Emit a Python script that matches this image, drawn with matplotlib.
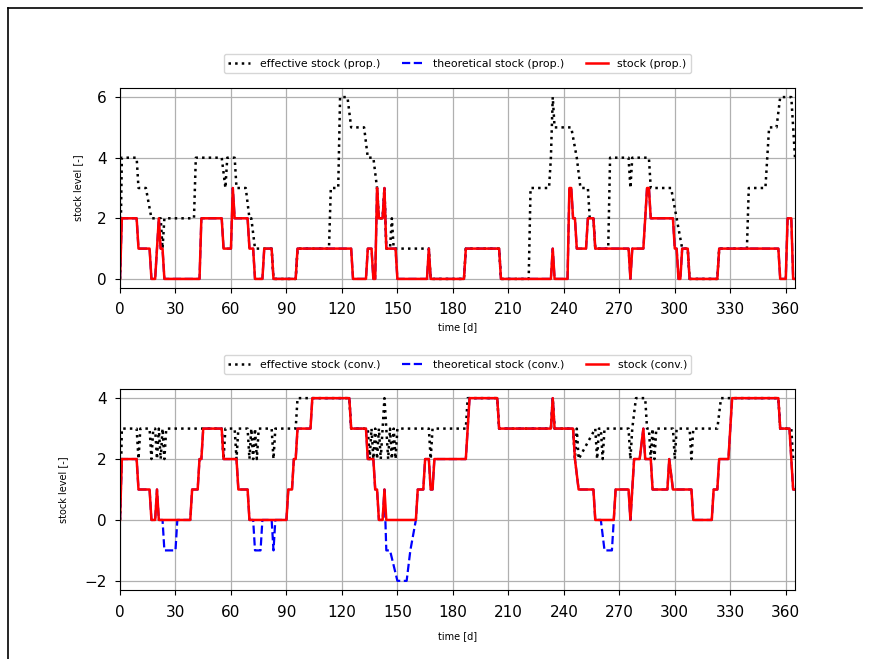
import matplotlib
matplotlib.use("Agg")
import matplotlib.pyplot as plt
from matplotlib.lines import Line2D

# ---------------- data (vertices: day, level) ----------------
t_eff_prop = [0, 1, 9, 10, 14, 17, 22, 23, 24, 40, 41, 55, 57, 58, 62, 63, 68, 70, 71, 73, 82, 83, 95, 96,
              113, 114, 118, 119, 123, 125, 132, 134, 137, 139, 140, 142, 143, 144, 146, 147, 148, 167, 168,
              186, 187, 205, 206, 221, 222, 232, 233, 234, 235, 244, 247, 249, 253, 254, 256, 257, 264, 265,
              275, 276, 277, 286, 287, 298, 304, 307, 308, 323, 324, 339, 340, 349, 351, 355, 357, 363, 364, 365]
v_eff_prop = [0, 4, 4, 3, 3, 2, 2, 1, 2, 2, 4, 4, 3, 4, 4, 3, 3, 2, 2, 1, 1, 0, 0, 1,
              1, 3, 3, 6, 6, 5, 5, 4, 4, 3, 2, 2, 3, 1, 1, 2, 1, 1, 0,
              0, 1, 1, 0, 0, 3, 3, 4, 6, 5, 5, 4, 3, 3, 2, 2, 1, 1, 4,
              4, 3, 4, 4, 3, 3, 1, 1, 0, 0, 1, 1, 3, 3, 5, 5, 6, 6, 5, 4]

t_stock_prop = [0, 1, 9, 10, 16, 17, 19, 21, 22, 23, 24, 43, 44, 55, 56, 60, 61, 62, 69, 70, 72, 73, 77, 78,
                82, 83, 95, 96, 125, 126, 133, 134, 136, 137, 138, 139, 140, 142, 143, 144, 149, 150, 166,
                167, 168, 186, 187, 205, 206, 233, 234, 235, 242, 243, 244, 245, 246, 247, 252, 253, 256, 257,
                275, 276, 277, 283, 285, 286, 287, 299, 300, 301, 302, 303, 304, 307, 308, 323, 324, 356, 357,
                360, 361, 363, 364, 365]
v_stock_prop = [0, 2, 2, 1, 1, 0, 0, 2, 1, 1, 0, 0, 2, 2, 1, 1, 3, 2, 2, 1, 1, 0, 0, 1,
                1, 0, 0, 1, 1, 0, 0, 1, 1, 0, 0, 3, 2, 2, 3, 1, 1, 0, 0,
                1, 0, 0, 1, 1, 0, 0, 1, 0, 0, 3, 3, 2, 2, 1, 1, 2, 2, 1,
                1, 0, 1, 1, 3, 3, 2, 2, 1, 1, 0, 0, 1, 1, 0, 0, 1, 1, 0,
                0, 2, 2, 0, 0]
t_theo_prop = list(t_stock_prop)
v_theo_prop = list(v_stock_prop)

t_eff_conv = [0, 1, 9, 10, 11, 16, 17, 18, 19, 20, 21, 22, 23, 24, 25, 55, 56, 57, 62, 63, 64, 69, 70, 71,
              72, 73, 74, 75, 82, 83, 84, 95, 96, 124, 125, 134, 135, 136, 137, 138, 139, 140, 141, 142, 143,
              144, 145, 146, 147, 148, 149, 150, 167, 168, 169, 187, 188, 204, 205, 233, 234, 235, 245, 246,
              247, 248, 257, 258, 259, 260, 261, 262, 275, 276, 277, 279, 284, 285, 286, 287, 288, 289, 290,
              299, 300, 301, 308, 309, 310, 323, 325, 356, 357, 363, 364, 365]
v_eff_conv = [0, 3, 3, 2, 3, 3, 2, 3, 3, 2, 3, 2, 3, 2, 3, 3, 2, 3, 3, 2, 3, 3, 2, 3,
              2, 3, 2, 3, 3, 2, 3, 3, 4, 4, 3, 3, 2, 3, 2, 3, 2, 3, 2, 3, 4,
              3, 2, 3, 2, 3, 2, 3, 3, 2, 3, 3, 4, 4, 3, 3, 4, 3, 3, 2,
              3, 2, 3, 2, 3, 3, 2, 3, 3, 2, 3, 4, 4, 3, 3, 2, 3, 2, 3,
              3, 2, 3, 3, 2, 3, 3, 4, 4, 3, 3, 2, 2]

t_stock_conv = [0, 1, 9, 10, 16, 17, 19, 20, 21, 38, 39, 42, 43, 44, 45, 55, 56, 63, 64, 69, 70, 90, 91, 93,
                94, 95, 96, 103, 104, 124, 125, 133, 134, 137, 138, 139, 140, 142, 143, 144, 160, 161, 164,
                165, 167, 168, 169, 170, 187, 189, 204, 205, 233, 234, 235, 245, 246, 248, 256, 257, 267, 268,
                275, 276, 278, 281, 283, 284, 287, 288, 296, 297, 299, 309, 310, 320, 321, 323, 324, 329, 331,
                356, 357, 362, 363, 364, 365]
v_stock_conv = [0, 2, 2, 1, 1, 0, 0, 1, 0, 0, 1, 1, 2, 2, 3, 3, 2, 2, 1, 1, 0, 0, 1, 1,
                2, 2, 3, 3, 4, 4, 3, 3, 2, 2, 1, 1, 0, 0, 1, 0, 0, 1, 1,
                2, 2, 1, 1, 2, 2, 4, 4, 3, 3, 4, 3, 3, 2, 1, 1, 0, 0, 1,
                1, 0, 2, 2, 3, 2, 2, 1, 1, 2, 1, 1, 0, 0, 1, 1, 2, 2, 4,
                4, 3, 3, 2, 1, 1]

t_theo_conv = [0, 1, 9, 10, 16, 17, 19, 20, 21, 23, 24, 30, 31, 38, 39, 42, 43, 44, 45, 55, 56, 63, 64, 69,
               70, 72, 73, 76, 77, 82, 83, 84, 90, 91, 93, 94, 95, 96, 103, 104, 124, 125, 133, 134, 137, 138,
               139, 140, 142, 143, 144, 146, 150, 155, 157, 160, 161, 164, 165, 167, 168, 169, 170, 187, 189,
               204, 205, 233, 234, 235, 245, 246, 248, 256, 257, 260, 262, 266, 267, 268, 275, 276, 278, 281,
               283, 284, 287, 288, 296, 297, 299, 309, 310, 320, 321, 323, 324, 329, 331, 356, 357, 362, 363,
               364, 365]
v_theo_conv = [0, 2, 2, 1, 1, 0, 0, 1, 0, 0, -1, -1, 0, 0, 1, 1, 2, 2, 3, 3, 2, 2, 1, 1,
               0, 0, -1, -1, 0, 0, -1, 0, 0, 1, 1, 2, 2, 3, 3, 4, 4, 3, 3, 2, 2, 1,
               1, 0, 0, 1, -1, -1, -2, -2, -1, 0, 1, 1, 2, 2, 1, 1, 2, 2, 4,
               4, 3, 3, 4, 3, 3, 2, 1, 1, 0, 0, -1, -1, 0, 1, 1, 0, 2, 2,
               3, 2, 2, 1, 1, 2, 1, 1, 0, 0, 1, 1, 2, 2, 4, 4, 3, 3, 2,
               1, 1]

x_ticks = [0, 30, 60, 90, 120, 150, 180, 210, 240, 270, 300, 330, 360]
labels_prop = ["effective stock (prop.)", "theoretical stock (prop.)", "stock (prop.)"]
labels_conv = ["effective stock (conv.)", "theoretical stock (conv.)", "stock (conv.)"]
x_label = "time [d]"
y_label = "stock level [-]"

# ---------------- figure ----------------
plt.rcParams["font.family"] = ["DejaVu Sans"]
fig = plt.figure(figsize=(8.70, 6.59), dpi=100)
W, H = 870, 659

def add_ax(l, t, r, b):
    return fig.add_axes([l / W, 1 - b / H, (r - l) / W, (b - t) / H])

ax1 = add_ax(120, 88, 795, 288)
ax2 = add_ax(120, 389, 795, 590)

def draw(ax, te, ve, tt, vt, ts, vs, labels, xpad, ylabpad, xlabpad):
    ax.plot(te, ve, color="black", linestyle=":", linewidth=1.8, label=labels[0])
    ax.plot(tt, vt, color="blue", linestyle="--", linewidth=1.6, label=labels[1])
    ax.plot(ts, vs, color="red", linestyle="-", linewidth=1.8, label=labels[2])
    ax.set_xlim(0, 365)
    ax.set_xticks(x_ticks)
    ax.grid(True, color="#b0b0b0", linewidth=0.9)
    ax.set_xlabel(x_label, fontsize=7, labelpad=xlabpad)
    ax.set_ylabel(y_label, fontsize=7, labelpad=ylabpad)
    ax.tick_params(labelsize=11)
    ax.tick_params(axis="x", pad=xpad)
    ax.tick_params(axis="y", pad=6)
    ax.legend(loc="lower center", bbox_to_anchor=(0.5, 1.048), ncol=3, fontsize=7.8,
              handlelength=2.0, columnspacing=2.0, handletextpad=0.9, borderpad=0.4)

draw(ax1, t_eff_prop, v_eff_prop, t_theo_prop, v_theo_prop, t_stock_prop, v_stock_prop, labels_prop,
     6.3, 9.8, 4.0)
draw(ax2, t_eff_conv, v_eff_conv, t_theo_conv, v_theo_conv, t_stock_conv, v_stock_conv, labels_conv,
     7.6, 12.0, 7.6)
ax1.set_yticks([0, 2, 4, 6])
ax2.set_yticks([-2, 0, 2, 4])

# outer frame of the screenshot
fig.add_artist(Line2D([8 / W, 8 / W], [0, 1 - 8 / H], color="black", linewidth=1.2, transform=fig.transFigure))
fig.add_artist(Line2D([8 / W, 862 / W], [1 - 8 / H, 1 - 8 / H], color="black", linewidth=1.2, transform=fig.transFigure))

fig.savefig("out.png", dpi=100)
